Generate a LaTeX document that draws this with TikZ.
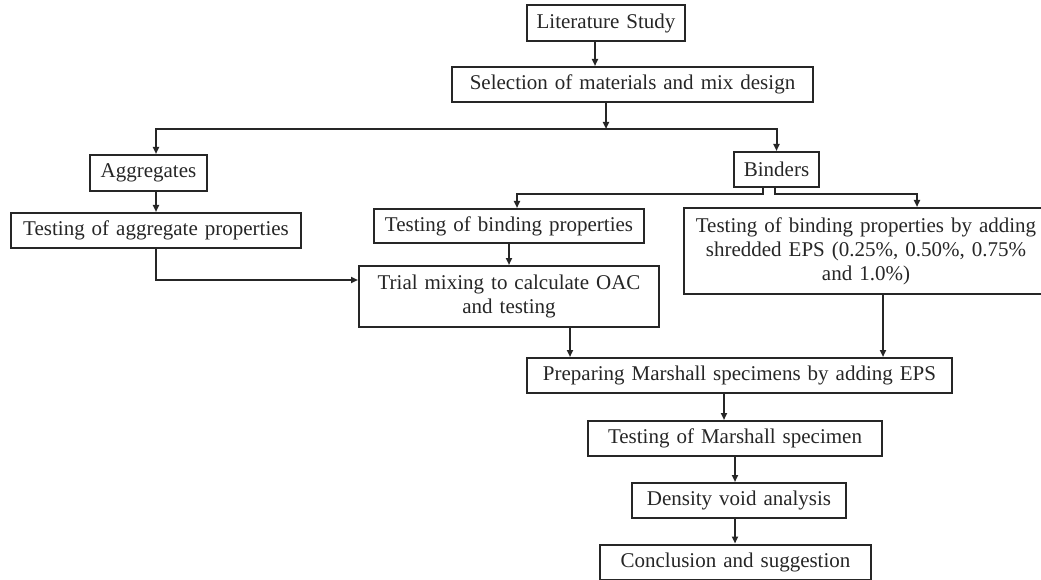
\documentclass[tikz,border=0pt]{standalone}
\usepackage{fontspec}
\setmainfont[WordSpace=0.8]{Liberation Serif}
\usetikzlibrary{arrows.meta}
\begin{document}
\begin{tikzpicture}[x=1pt,y=-1pt,
  box/.style={draw=black!85,line width=2pt,inner sep=0pt,align=center,
    font=\fontsize{21}{24}\selectfont,text=black!85},
  arr/.style={draw=black!85,line width=2pt,-{Triangle[length=7pt,width=6pt]}}]
\useasboundingbox (0,0) rectangle (1041,580);
\newcommand\bx[7]{\node[box,minimum width=#4pt,minimum height=#5pt,text width=#6pt] (#1) at (#2,#3) {#7};}
\bx{lit}{606}{23}{158}{36}{155}{Literature Study}
\bx{sel}{632.5}{84.5}{361}{35}{358}{Selection of materials and mix design}
\bx{agg}{148.5}{173}{117}{36}{114}{Aggregates}
\bx{bind}{776.5}{169.5}{85}{35}{82}{Binders}
\bx{tap}{156}{230.5}{290}{35}{287}{Testing of aggregate properties}
\bx{tbp}{509}{226}{270}{34}{267}{Testing of binding properties}
\bx{trial}{509}{296.5}{300}{61}{295}{Trial mixing to calculate OAC\\ and testing}
\bx{eps}{866}{251}{364}{86}{360}{Testing of binding properties by adding\\ shredded EPS (0.25\%, 0.50\%, 0.75\%\\ and 1.0\%)}
\bx{prep}{739.5}{375.5}{425}{35}{422}{Preparing Marshall specimens by adding EPS}
\bx{tms}{735}{438.5}{294}{35}{290}{Testing of Marshall specimen}
\bx{dva}{739}{500.5}{214}{35}{210}{Density void analysis}
\bx{con}{735.5}{562}{271}{35}{268}{Conclusion and suggestion}
\coordinate (br) at (606,129);
\draw[arr] ([xshift=-11pt]lit.south) -- ([xshift=-11pt]lit.south |- sel.north);
\draw[arr] ([xshift=-26.5pt]sel.south) -- (br);
\draw[arr] (br) -| ([xshift=7.5pt]agg.north);
\draw[arr] (br) -| (bind.north);
\draw[arr] ([xshift=7.5pt]agg.south) -- (tap.north);
\draw[arr] ([xshift=-13.5pt]bind.south) -- ++(0,6) -| ([xshift=8pt]tbp.north);
\draw[arr] ([xshift=-1.5pt]bind.south) -- ++(0,6) -| ([xshift=51pt]eps.north);
\draw[arr] (tap.south) |- ([yshift=16.5pt]trial.west);
\draw[arr] (tbp.south) -- (trial.north);
\draw[arr] ([xshift=61pt]trial.south) -- ([xshift=61pt]trial.south |- prep.north);
\draw[arr] ([xshift=17pt]eps.south) -- ([xshift=17pt]eps.south |- prep.north);
\draw[arr] ([xshift=-15.5pt]prep.south) -- ([xshift=-15.5pt]prep.south |- tms.north);
\draw[arr] (tms.south) -- (tms.south |- dva.north);
\draw[arr] ([xshift=-4pt]dva.south) -- ([xshift=-4pt]dva.south |- con.north);
\end{tikzpicture}
\end{document}
